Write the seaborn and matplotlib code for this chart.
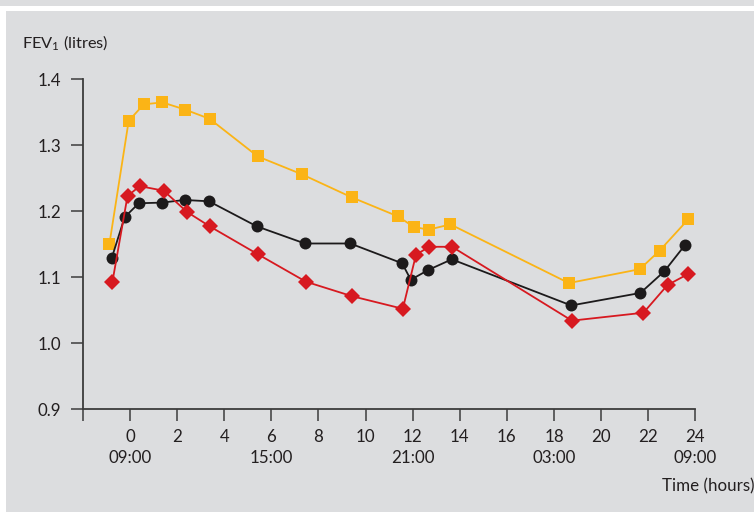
import matplotlib
matplotlib.use("Agg")
import matplotlib.pyplot as plt
import matplotlib.patches as mpatches
import seaborn as sns
import pandas as pd

# FEV1 over a 24-hour period, three series
hours_yellow = [-0.88, -0.06, 0.58, 1.37, 2.34, 3.38, 5.42, 7.29, 9.41, 11.38, 12.05, 12.68, 13.60, 18.63, 21.64, 22.48, 23.71]
fev_yellow = [1.150, 1.337, 1.362, 1.365, 1.354, 1.340, 1.283, 1.256, 1.221, 1.192, 1.176, 1.172, 1.180, 1.091, 1.112, 1.140, 1.188]

hours_black = [-0.78, -0.23, 0.37, 1.35, 2.31, 3.35, 5.38, 7.42, 9.35, 11.55, 11.92, 12.67, 13.66, 18.73, 21.67, 22.69, 23.57]
fev_black = [1.129, 1.191, 1.212, 1.213, 1.217, 1.215, 1.177, 1.151, 1.151, 1.121, 1.096, 1.111, 1.127, 1.057, 1.076, 1.109, 1.149]

hours_red = [-0.75, -0.11, 0.41, 1.43, 2.41, 3.38, 5.41, 7.47, 9.43, 11.58, 12.14, 12.70, 13.67, 18.76, 21.80, 22.82, 23.71]
fev_red = [1.093, 1.223, 1.238, 1.231, 1.199, 1.177, 1.135, 1.093, 1.071, 1.052, 1.134, 1.146, 1.146, 1.034, 1.046, 1.088, 1.105]

x_ticks = [0, 2, 4, 6, 8, 10, 12, 14, 16, 18, 20, 22, 24]
clock_labels = {0: "09:00", 6: "15:00", 12: "21:00", 18: "03:00", 24: "09:00"}
y_ticks = [0.9, 1.0, 1.1, 1.2, 1.3, 1.4]

BG = "#dcdddf"
AX = "#3c3c3c"
TXT = "#231f20"

sns.set_theme(style="ticks")
plt.rcParams["font.family"] = ["Lato", "DejaVu Sans"]
plt.rcParams["mathtext.fontset"] = "custom"
plt.rcParams["mathtext.rm"] = "Lato"

fig = plt.figure(figsize=(7.54, 5.12), dpi=100, facecolor=BG)
W, H = 754, 512
# white frame pieces along the top and left edges
fig.patches.append(mpatches.Rectangle((0, 1 - 10.7 / H), 1, 5.0 / H, transform=fig.transFigure,
                                      facecolor="white", edgecolor="none", zorder=0))
fig.patches.append(mpatches.Rectangle((0, 0), 6 / W, 1 - 5.7 / H, transform=fig.transFigure,
                                      facecolor="white", edgecolor="none", zorder=0))

ax = fig.add_axes([83 / W, 103 / H, (695.3 - 83) / W, (432.7 - 103) / H])
ax.set_facecolor("none")

df = pd.concat([
    pd.DataFrame({"hour": hours_yellow, "fev": fev_yellow, "group": "yellow"}),
    pd.DataFrame({"hour": hours_black, "fev": fev_black, "group": "black"}),
    pd.DataFrame({"hour": hours_red, "fev": fev_red, "group": "red"}),
])

styles = {
    "yellow": dict(color="#fbb416", marker="s", ms=9.0),
    "black": dict(color="#1c1a1b", marker="o", ms=8.6),
    "red": dict(color="#d71920", marker="D", ms=7.8),
}
for i, g in enumerate(["yellow", "black", "red"]):
    sub = df[df["group"] == g]
    st = styles[g]
    sns.lineplot(data=sub, x="hour", y="fev", ax=ax, color=st["color"], lw=1.3,
                 marker=st["marker"], markersize=st["ms"], markeredgewidth=0,
                 markerfacecolor=st["color"], sort=False, estimator=None, zorder=3 + i)

ax.set_xlim(-2, 24)
ax.set_ylim(0.9, 1.4)
ax.set_xlabel("")
ax.set_ylabel("")
sns.despine(ax=ax)
for s in ["left", "bottom"]:
    ax.spines[s].set_color(AX)
    ax.spines[s].set_linewidth(1.3)

ax.set_xticks([-2] + x_ticks)
ax.set_xticklabels([""] + [f"{t}\n{clock_labels[t]}" if t in clock_labels else f"{t}\n" for t in x_ticks],
                   linespacing=1.4)
ax.set_yticks(y_ticks)
ax.set_yticklabels([f"{v:.1f}" for v in y_ticks])
ax.tick_params(axis="both", direction="out", length=8.6, width=1.1, color=AX,
               labelsize=12.2, labelcolor=TXT)
ax.tick_params(axis="x", pad=6)
ax.tick_params(axis="y", pad=7)
for lab in ax.get_xticklabels():
    lab.set_verticalalignment("top")

fig.text(22 / W, 1 - 43 / H, r"FEV$_\mathregular{1}$ (litres)", ha="left", va="center",
         fontsize=11.8, color=TXT)
fig.text(754 / W, 1 - 486 / H, "Time (hours)", ha="right", va="center",
         fontsize=12.2, color=TXT)

fig.savefig("out.png", dpi=100, facecolor=BG)
